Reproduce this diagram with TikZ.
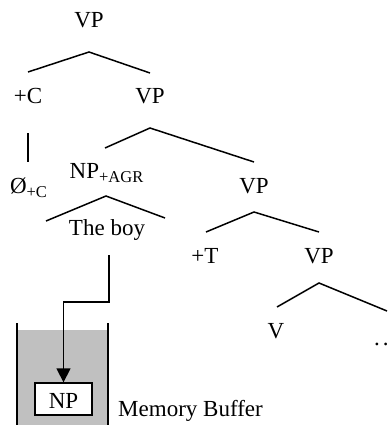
\documentclass[tikz,border=0pt]{standalone}
\usepackage{fontspec}
\setmainfont{Liberation Serif}
\usetikzlibrary{arrows.meta}
\definecolor{bufgray}{HTML}{C0C0C0}
% lowered, smaller feature subscript
\newcommand\lowsub[1]{\raisebox{-4.5pt}{\fontsize{16.5}{17}\selectfont #1}}
\begin{document}
\begin{tikzpicture}[x=1pt,y=-1pt,
  lbl/.style={anchor=base, inner sep=0pt, font=\fontsize{23}{27}\selectfont},
  branch/.style={line width=1.5pt},
  wall/.style={line width=1.8pt},
  pointer/.style={line width=1.3pt, -{Triangle[width=14pt,length=14pt]}},
  bufbox/.style={draw, line width=1.3pt, fill=white, inner sep=0pt,
    minimum width=57pt, minimum height=32pt, text height=18pt, text depth=0pt,
    font=\fontsize{23}{27}\selectfont}]
\useasboundingbox (0,0) rectangle (388,425);

% memory buffer container
\fill[bufgray] (17,330) rectangle (108,425);
\draw[wall] (17,323) -- (17,425);
\draw[wall] (108,323) -- (108,425);

% tree labels
\node[lbl] (vpA)   at (89,28)    {VP};
\node[lbl] (plusC) at (28,103)   {+C};
\node[lbl] (vpB)   at (150,103)  {VP};
\node[lbl] (nullC) at (28.5,193) {Ø\lowsub{+C}};
\node[lbl] (npAgr) at (106.5,178){NP\lowsub{+AGR}};
\node[lbl] (vpC)   at (254,193)  {VP};
\node[lbl] (boy)   at (107,235)  {The boy};
\node[lbl] (plusT) at (205,263)  {+T};
\node[lbl] (vpD)   at (319,263)  {VP};
\node[lbl] (verb)  at (276,338)  {V};
\node[lbl, anchor=base west] (rest) at (374,345) {.\kern3pt.};

% branch points
\coordinate (aTop) at (89,52);   \coordinate (aL) at (28,72);   \coordinate (aR) at (150,73);
\coordinate (bTop) at (150,128); \coordinate (bL) at (105,148); \coordinate (bR) at (254,162);
\coordinate (cTop) at (254,212); \coordinate (cL) at (206,232); \coordinate (cR) at (319,232);
\coordinate (dTop) at (319,283); \coordinate (dL) at (277,307); \coordinate (dR) at (387,311);
\coordinate (nTop) at (106,196); \coordinate (nL) at (46,221);  \coordinate (nR) at (165,218);
\coordinate (cUp) at (28,133);   \coordinate (cDown) at (28,162);

\draw[branch] (aL) -- (aTop) -- (aR);
\draw[branch] (bL) -- (bTop) -- (bR);
\draw[branch] (cL) -- (cTop) -- (cR);
\draw[branch] (dL) -- (dTop) -- (dR);
\draw[branch] (nL) -- (nTop) -- (nR);
\draw[branch] (cUp) -- (cDown);

% buffered NP and the pointer into it
\node[bufbox] (npBuf) at (63.5,399) {NP};
\node[lbl, anchor=base west] (memLabel) at (118,416) {Memory Buffer};
\coordinate (boyDrop) at (109,255);
\coordinate (turnA) at (109,302);
\coordinate (turnB) at (63.5,302);
\draw[pointer] (boyDrop) -- (turnA) -- (turnB) -- (npBuf.north);
\end{tikzpicture}
\end{document}
